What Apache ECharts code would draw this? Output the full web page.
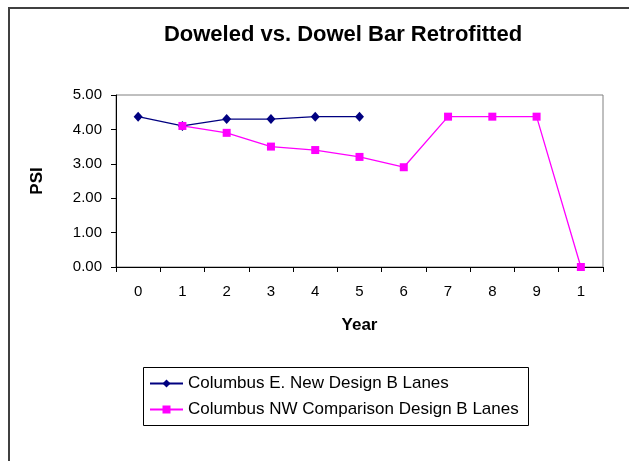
<!DOCTYPE html>
<html>
<head>
<meta charset="utf-8">
<style>
  html, body { margin: 0; padding: 0; background: #fff; }
  #chart { width: 629px; height: 461px; }
</style>
<script src="https://cdn.jsdelivr.net/npm/echarts@6/dist/echarts.min.js"></script>
</head>
<body>
<div id="chart"></div>
<script>
// 年份标签（最后一个 10 被截成 "1"）
var yearLabels = ['0', '1', '2', '3', '4', '5', '6', '7', '8', '9', '1'];
var seriesNames = ['Columbus E. New Design B Lanes', 'Columbus NW Comparison Design B Lanes'];
// 新设计 B 车道
var newDesign = [4.37, 4.10, 4.30, 4.30, 4.37, 4.37, '-', '-', '-', '-', '-'];
// 对比路段
var comparison = ['-', 4.10, 3.90, 3.50, 3.40, 3.20, 2.90, 4.37, 4.37, 4.37, 0.00];

(function () {
  var myChart = echarts.init(document.getElementById('chart'));
  var font = 'Liberation Sans, Arial, sans-serif';

  var option = {
    animation: false,
    title: {
      text: 'Doweled vs. Dowel Bar Retrofitted',
      left: 338,
      textAlign: 'center',
      top: 19,
      textStyle: { fontFamily: font, fontSize: 22, fontWeight: 'bold', color: '#000' }
    },
    // 外框和图例框
    graphic: [
      {
        type: 'rect',
        shape: { x: 9, y: 8, width: 700, height: 600 },
        style: { fill: 'none', stroke: '#404040', lineWidth: 2 },
        silent: true
      },
      {
        type: 'rect',
        shape: { x: 143.5, y: 367.5, width: 385, height: 58 },
        style: { fill: 'none', stroke: '#000', lineWidth: 1 },
        silent: true
      }
    ],
    legend: {
      orient: 'vertical',
      left: 143,
      top: 368,
      padding: [7, 5, 7, 6],
      itemWidth: 33,
      itemHeight: 10,
      itemGap: 9,
      data: seriesNames,
      textStyle: { fontFamily: font, fontSize: 17, lineHeight: 16, color: '#000' }
    },
    grid: {
      left: 116,
      right: 26,
      top: 95,
      bottom: 194,
      show: true,
      borderColor: '#808080',
      borderWidth: 1,
      containLabel: false
    },
    xAxis: {
      type: 'category',
      data: yearLabels,
      boundaryGap: true,
      name: 'Year',
      nameLocation: 'middle',
      nameGap: 50,
      nameTextStyle: { fontFamily: font, fontSize: 17, fontWeight: 'bold', color: '#000' },
      axisLine: { lineStyle: { color: '#000', width: 1 } },
      axisTick: { show: true, length: 5, lineStyle: { color: '#000' } },
      axisLabel: { interval: 0, margin: 17, fontFamily: font, fontSize: 15, color: '#000' },
      splitLine: { show: false }
    },
    yAxis: {
      type: 'value',
      min: 0,
      max: 5,
      interval: 1,
      name: 'PSI',
      nameLocation: 'middle',
      nameGap: 70,
      nameRotate: 90,
      nameTextStyle: { fontFamily: font, fontSize: 17, fontWeight: 'bold', color: '#000' },
      axisLine: { show: true, lineStyle: { color: '#000', width: 1 } },
      axisTick: { show: true, length: 5, lineStyle: { color: '#000' } },
      axisLabel: {
        margin: 14,
        fontFamily: font,
        fontSize: 15,
        color: '#000',
        formatter: function (v) { return v.toFixed(2); }
      },
      splitLine: { show: false }
    },
    series: [
      {
        name: seriesNames[0],
        type: 'line',
        data: newDesign,
        symbol: 'diamond',
        symbolSize: [9, 10],
        showAllSymbol: true,
        connectNulls: false,
        color: '#000080',
        lineStyle: { color: '#000080', width: 1.3 },
        itemStyle: { color: '#000080' },
        z: 2
      },
      {
        name: seriesNames[1],
        type: 'line',
        data: comparison,
        symbol: 'rect',
        symbolSize: 8,
        showAllSymbol: true,
        connectNulls: false,
        color: '#FF00FF',
        lineStyle: { color: '#FF00FF', width: 1.3 },
        itemStyle: { color: '#FF00FF' },
        z: 3
      }
    ]
  };

  myChart.setOption(option);
  window.addEventListener('resize', function () {
    myChart.resize();
  });
})();
</script>
</body>
</html>
